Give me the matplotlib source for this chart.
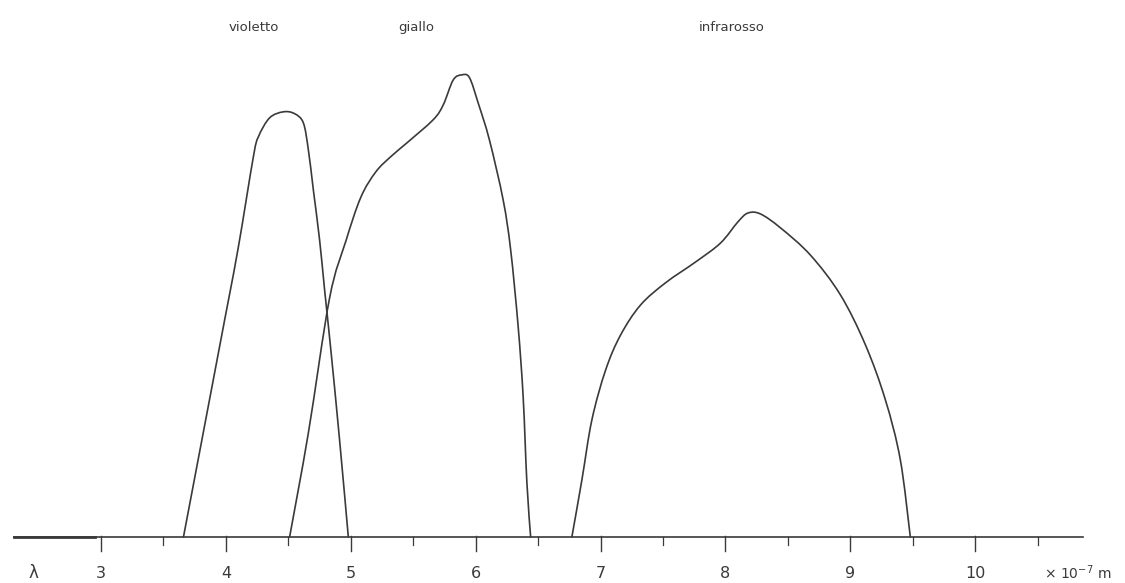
import matplotlib
matplotlib.use("Agg")
import matplotlib.pyplot as plt
import numpy as np
from matplotlib.path import Path
from matplotlib.patches import PathPatch

# Wavelength (x 10^-7 m) and relative intensity for each band
violetto_x = [3.66, 3.99, 4.10, 4.22, 4.26, 4.35, 4.46, 4.55, 4.62, 4.66, 4.70, 4.75, 4.79,
              4.84, 4.91, 4.98]
violetto_y = [0.0, 47.0, 62.8, 82.3, 86.6, 90.7, 92.0, 91.6, 89.6, 83.8, 75.1, 64.3, 53.5,
              40.5, 21.0, 0.0]

giallo_x = [4.51, 4.66, 4.83, 4.96, 5.08, 5.20, 5.32, 5.45, 5.66, 5.74, 5.82, 5.89, 5.95,
            6.02, 6.11, 6.22, 6.28, 6.34, 6.38, 6.41, 6.44]
giallo_y = [0.0, 22.5, 51.7, 64.0, 73.5, 79.0, 82.3, 85.3, 90.3, 93.5, 98.9, 100.0, 99.4,
            93.9, 85.9, 72.9, 62.1, 45.5, 30.3, 11.7, 0.0]

infrarosso_x = [6.77, 6.85, 6.93, 7.04, 7.16, 7.32, 7.52, 7.76, 7.96, 8.10, 8.18, 8.28,
                8.44, 8.68, 8.92, 9.12, 9.28, 9.40, 9.48]
infrarosso_y = [0.0, 12.3, 25.3, 36.1, 43.7, 50.2, 55.0, 59.5, 63.6, 68.2, 70.1, 69.9,
                66.9, 61.0, 52.4, 41.6, 29.7, 16.7, 0.0]

major_ticks = [3, 4, 5, 6, 7, 8, 9, 10]
minor_ticks = [3.5, 4.5, 5.5, 6.5, 7.5, 8.5, 9.5, 10.5]
band_labels = ["violetto", "giallo", "infrarosso"]
band_label_x = [4.22, 5.52, 8.05]

ink = "#3a3a3a"


def smooth_path(xs, ys):
    """Catmull-Rom curve through the data points, expressed as cubic Bezier path."""
    p = np.column_stack([xs, ys]).astype(float)
    ext = np.vstack([p[0], p, p[-1]])
    verts = [p[0]]
    codes = [Path.MOVETO]
    for i in range(len(p) - 1):
        p0, p1, p2, p3 = ext[i], ext[i + 1], ext[i + 2], ext[i + 3]
        c1 = p1 + (p2 - p0) / 6.0
        c2 = p2 - (p3 - p1) / 6.0
        verts += [c1, c2, p2]
        codes += [Path.CURVE4] * 3
    return Path(verts, codes)


fig = plt.figure(figsize=(11.25, 5.83), dpi=100)
ax = fig.add_axes([0, 0, 1, 1])
ax.set_xlim(2.191, 11.199)
ax.set_ylim(-9.96, 116.2)
ax.axis("off")

for xs, ys in [(violetto_x, violetto_y), (giallo_x, giallo_y), (infrarosso_x, infrarosso_y)]:
    ax.add_patch(PathPatch(smooth_path(xs, ys), facecolor="none", edgecolor=ink,
                           lw=1.2, joinstyle="round", capstyle="round"))

# baseline axis
ax.plot([2.3, 10.86], [0, 0], color=ink, lw=1.2)
ax.plot([2.3, 2.95], [0, 0], color=ink, lw=2.0)
for t in major_ticks:
    ax.plot([t, t], [0.3, -3.0], color=ink, lw=1.0)
    ax.text(t, -7.8, str(t), ha="center", va="center", fontsize=11.5, color=ink)
for t in minor_ticks:
    ax.plot([t, t], [0, -1.7], color=ink, lw=0.9)

ax.text(2.456, -7.8, "λ", ha="center", va="center", fontsize=12, color=ink)
ax.text(10.55, -7.8, r"$\times\ 10^{-7}$ m", ha="left", va="center", fontsize=10, color=ink)

for lab, lx in zip(band_labels, band_label_x):
    ax.text(lx, 110.2, lab, ha="center", va="center", fontsize=9.5, color=ink)

fig.savefig("out.png", dpi=100, facecolor="white")
